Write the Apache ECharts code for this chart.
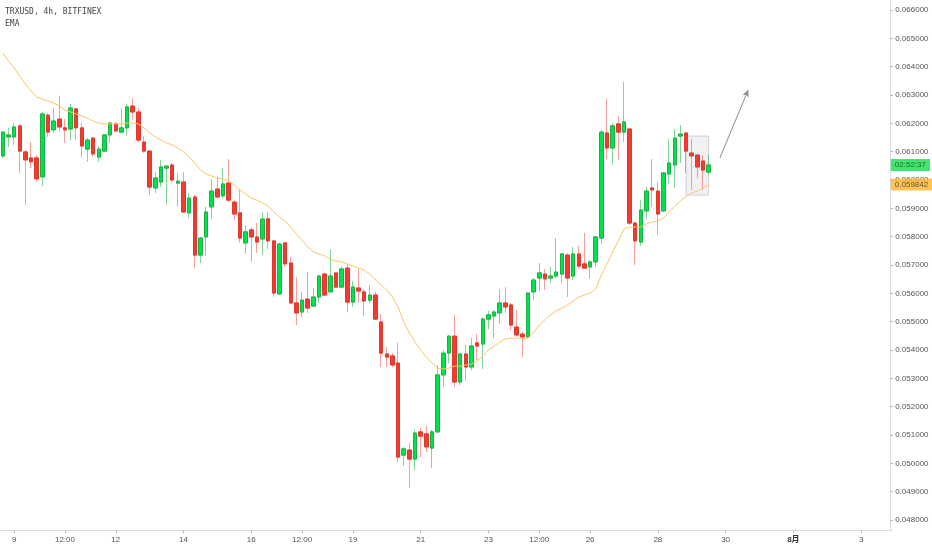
<!DOCTYPE html>
<html><head><meta charset="utf-8">
<script src="https://cdn.jsdelivr.net/npm/echarts@6/dist/echarts.min.js"></script>
<style>html,body{margin:0;padding:0;background:#fff}#c{width:932px;height:550px}</style>
</head><body><div id="c"></div>
<script>
// ---- data (4h bars, first bar = 8 Jul 16:00) ----
const opens = [0.06085,0.06152,0.06152,0.06191,0.06099,0.06078,0.06078,0.06011,0.06229,0.06177,0.06215,0.06184,0.06180,0.06251,0.06184,0.06109,0.06148,0.06081,0.06102,0.06159,0.06198,0.06169,0.06184,0.06261,0.06240,0.06134,0.06102,0.05972,0.05993,0.06042,0.06053,0.05989,0.05993,0.05884,0.05940,0.05735,0.05799,0.05905,0.05968,0.05944,0.05989,0.05922,0.05884,0.05778,0.05824,0.05799,0.05792,0.05863,0.05785,0.05598,0.05778,0.05707,0.05566,0.05534,0.05580,0.05555,0.05587,0.05668,0.05605,0.05672,0.05622,0.05689,0.05569,0.05619,0.05605,0.05576,0.05594,0.05499,0.05386,0.05379,0.05354,0.05029,0.05047,0.05015,0.05111,0.05104,0.05054,0.05111,0.05312,0.05389,0.05449,0.05287,0.05386,0.05340,0.05425,0.05421,0.05509,0.05520,0.05531,0.05566,0.05559,0.05481,0.05456,0.05446,0.05605,0.05654,0.05668,0.05654,0.05661,0.05668,0.05735,0.05661,0.05739,0.05704,0.05693,0.05711,0.05795,0.06166,0.06113,0.06198,0.06169,0.06180,0.05848,0.05781,0.05891,0.05972,0.05961,0.05891,0.06021,0.06053,0.06155,0.06166,0.06095,0.06088,0.06067,0.06028];
const closes = [0.06169,0.06159,0.06187,0.06102,0.06071,0.06064,0.06004,0.06233,0.06169,0.06208,0.06187,0.06177,0.06254,0.06184,0.06120,0.06141,0.06092,0.06109,0.06159,0.06201,0.06173,0.06184,0.06258,0.06240,0.06141,0.06102,0.05975,0.06007,0.06046,0.06049,0.06000,0.05996,0.05887,0.05936,0.05735,0.05795,0.05887,0.05961,0.05940,0.05986,0.05929,0.05880,0.05795,0.05817,0.05799,0.05781,0.05862,0.05785,0.05601,0.05774,0.05704,0.05566,0.05531,0.05576,0.05548,0.05587,0.05661,0.05594,0.05661,0.05622,0.05686,0.05569,0.05622,0.05608,0.05573,0.05594,0.05509,0.05389,0.05375,0.05347,0.05022,0.05051,0.05015,0.05107,0.05096,0.05058,0.05111,0.05312,0.05389,0.05449,0.05287,0.05386,0.05340,0.05414,0.05414,0.05509,0.05524,0.05534,0.05566,0.05552,0.05488,0.05453,0.05446,0.05601,0.05647,0.05672,0.05651,0.05661,0.05675,0.05739,0.05654,0.05739,0.05696,0.05689,0.05711,0.05799,0.06169,0.06113,0.06191,0.06169,0.06205,0.05848,0.05785,0.05894,0.05961,0.05965,0.05880,0.06025,0.06060,0.06148,0.06162,0.06102,0.06085,0.06046,0.06035,0.06053];
const lows = [0.06078,0.06117,0.06124,0.06025,0.05912,0.06042,0.05993,0.05979,0.06152,0.06166,0.06169,0.06131,0.06141,0.06141,0.06078,0.06064,0.06081,0.06064,0.06099,0.06131,0.06169,0.06166,0.06159,0.06212,0.06131,0.06095,0.05947,0.05954,0.05975,0.05912,0.05989,0.05908,0.05884,0.05866,0.05689,0.05707,0.05732,0.05863,0.05933,0.05936,0.05922,0.05859,0.05778,0.05739,0.05711,0.05742,0.05735,0.05756,0.05587,0.05594,0.05693,0.05562,0.05488,0.05516,0.05531,0.05552,0.05566,0.05591,0.05601,0.05619,0.05619,0.05534,0.05552,0.05566,0.05520,0.05566,0.05506,0.05340,0.05340,0.05340,0.05005,0.04991,0.04913,0.04976,0.05022,0.05040,0.04984,0.05107,0.05269,0.05354,0.05269,0.05276,0.05291,0.05329,0.05365,0.05333,0.05474,0.05442,0.05492,0.05531,0.05471,0.05446,0.05375,0.05442,0.05576,0.05608,0.05612,0.05636,0.05654,0.05636,0.05587,0.05647,0.05686,0.05686,0.05651,0.05693,0.05774,0.06074,0.06053,0.06071,0.06134,0.05841,0.05700,0.05767,0.05863,0.05905,0.05806,0.05887,0.05986,0.05972,0.06060,0.06025,0.05965,0.06007,0.05965,0.06018];
const highs = [0.06173,0.06184,0.06201,0.06198,0.06106,0.06134,0.06088,0.06240,0.06236,0.06254,0.06297,0.06215,0.06268,0.06254,0.06201,0.06148,0.06152,0.06120,0.06162,0.06205,0.06205,0.06254,0.06268,0.06289,0.06254,0.06155,0.06106,0.06028,0.06071,0.06053,0.06060,0.06025,0.06028,0.05954,0.05947,0.05799,0.05905,0.06004,0.06011,0.06042,0.06074,0.05929,0.05968,0.05841,0.05834,0.05848,0.05887,0.05887,0.05788,0.05778,0.05781,0.05728,0.05658,0.05605,0.05675,0.05619,0.05665,0.05672,0.05756,0.05675,0.05696,0.05704,0.05644,0.05686,0.05615,0.05629,0.05605,0.05527,0.05411,0.05389,0.05425,0.05058,0.05072,0.05118,0.05125,0.05132,0.05118,0.05347,0.05400,0.05453,0.05524,0.05389,0.05418,0.05442,0.05456,0.05516,0.05538,0.05541,0.05615,0.05622,0.05566,0.05541,0.05464,0.05605,0.05654,0.05707,0.05686,0.05693,0.05795,0.05742,0.05742,0.05764,0.05767,0.05813,0.05718,0.05802,0.06177,0.06286,0.06201,0.06226,0.06346,0.06184,0.05852,0.05929,0.05975,0.06074,0.05993,0.06028,0.06145,0.06180,0.06194,0.06169,0.06145,0.06092,0.06088,0.06088];
const ema = [0.06448,0.06420,0.06395,0.06367,0.06339,0.06314,0.06293,0.06286,0.06279,0.06272,0.06261,0.06247,0.06240,0.06233,0.06226,0.06219,0.06208,0.06201,0.06198,0.06198,0.06198,0.06198,0.06201,0.06201,0.06198,0.06184,0.06166,0.06152,0.06141,0.06131,0.06124,0.06113,0.06099,0.06081,0.06060,0.06035,0.06021,0.06014,0.06007,0.06004,0.05996,0.05982,0.05965,0.05951,0.05936,0.05929,0.05919,0.05908,0.05887,0.05869,0.05855,0.05834,0.05809,0.05788,0.05764,0.05746,0.05739,0.05732,0.05721,0.05714,0.05711,0.05704,0.05696,0.05689,0.05682,0.05668,0.05647,0.05629,0.05612,0.05587,0.05552,0.05499,0.05460,0.05428,0.05400,0.05375,0.05354,0.05336,0.05333,0.05336,0.05343,0.05343,0.05347,0.05350,0.05361,0.05379,0.05400,0.05414,0.05428,0.05439,0.05442,0.05442,0.05439,0.05442,0.05463,0.05488,0.05506,0.05524,0.05538,0.05548,0.05559,0.05573,0.05587,0.05594,0.05601,0.05615,0.05665,0.05704,0.05746,0.05785,0.05827,0.05834,0.05834,0.05834,0.05845,0.05852,0.05855,0.05866,0.05887,0.05908,0.05926,0.05943,0.05954,0.05961,0.05972,0.059842];

// x-axis tick labels (category index -> text)
const xTickIndex = [2, 11, 20, 32, 44, 53, 62, 74, 86, 95, 104, 116, 128, 140, 152];
const xTickText  = ['9','12:00','12','14','16','12:00','19','21','23','12:00','26','28','30','8月','3'];
// annotations
const arrowFrom = [127, 0.06078];
const arrowTo   = [132, 0.06318];
const boxFrom   = [121, 0.06155];
const boxTo     = [125, 0.05947];
const countdownText = '02:52:37';
const emaLastText = '0.059842';

// ---- build ----
const barCount = 158;
const barStart = Date.UTC(2020, 6, 8, 16);
const categories = [];
for (let k = 0; k < barCount; k++) {
  const d = new Date(barStart + k * 4 * 3600e3);
  categories.push((d.getUTCMonth()+1) + '/' + d.getUTCDate() + ' ' + String(d.getUTCHours()).padStart(2,'0') + ':00');
}
const tickMap = new Map(xTickIndex.map((j, k) => [j, xTickText[k]]));
const full = opens.map((o, k) => [o, closes[k], lows[k], highs[k]]);
const bodies = opens.map((o, k) => [o, closes[k], Math.min(o, closes[k]), Math.max(o, closes[k])]);

const bandW = 5.6667;
const gridLeft = 11 - 2.5 * bandW;
const gridW = barCount * bandW;
const pxPer = 510 / 0.018;
const yMin = 0.048 - 10 / pxPer;
const yMax = 0.066 + 10 / pxPer;
const font = 'Liberation Sans, Arial, Noto Sans CJK SC, sans-serif';
const tagLabel = (text, bg, fg) => ({show: true, position: 'right', distance: 1, formatter: () => text,
  backgroundColor: bg, color: fg, padding: [2, 4, 2, 4], fontSize: 8, fontFamily: font, align: 'left', verticalAlign: 'middle'});

const chart = echarts.init(document.getElementById('c'));
chart.setOption({
  animation: false,
  backgroundColor: '#ffffff',
  title: {
    text: 'TRXUSD, 4h, BITFINEX', subtext: 'EMA', left: 5, top: 8, itemGap: 4, padding: 0,
    textStyle: {fontFamily: 'DejaVu Sans Mono', fontSize: 8, fontWeight: 'normal', color: '#444'},
    subtextStyle: {fontFamily: 'DejaVu Sans Mono', fontSize: 8, color: '#444'}
  },
  grid: {left: gridLeft, top: 0, width: gridW, height: 530},
  xAxis: {
    type: 'category', data: categories, boundaryGap: true,
    axisLine: {lineStyle: {color: '#d9dbe5'}},
    axisTick: {show: true, alignWithLabel: true, length: 3, interval: (idx) => tickMap.has(idx), lineStyle: {color: '#b8bac4'}},
    axisLabel: {
      interval: (idx) => tickMap.has(idx),
      formatter: (v, idx) => { const t = tickMap.get(idx) || ''; return t.indexOf('月') >= 0 ? '{m|' + t + '}' : t; },
      fontSize: 8, color: '#555', margin: 6, fontFamily: font,
      rich: {m: {fontWeight: 'bold', fontSize: 8, color: '#333', fontFamily: font}}
    },
    splitLine: {show: false}
  },
  yAxis: {
    type: 'value', position: 'right', offset: -2, min: yMin, max: yMax, scale: true,
    splitNumber: 18, minInterval: 0.001, maxInterval: 0.001,
    axisLine: {show: true, lineStyle: {color: '#d9dbe5'}},
    axisTick: {show: true, length: 3, lineStyle: {color: '#b8bac4'}},
    axisLabel: {fontSize: 8, color: '#555', margin: 5, fontFamily: font, showMinLabel: false, showMaxLabel: false,
      formatter: (v) => v.toFixed(6)},
    splitLine: {show: false}
  },
  series: [
    {
      type: 'candlestick', name: 'wick', data: full, barWidth: 4, clip: false, silent: true,
      itemStyle: {color: 'rgba(0,0,0,0)', color0: 'rgba(0,0,0,0)', borderColor: 'rgba(40,190,80,0.6)', borderColor0: 'rgba(240,80,70,0.55)', borderWidth: 1},
      markArea: {silent: true, itemStyle: {color: 'rgba(150,150,160,0.13)', borderColor: '#d0d0d6', borderWidth: 1},
        data: [[{coord: boxFrom}, {coord: boxTo}]]},
      markLine: {silent: true, symbol: ['none', 'arrow'], symbolSize: [5, 7], label: {show: false},
        lineStyle: {color: '#8c8c8c', width: 1, type: 'solid'},
        data: [[{coord: arrowFrom}, {coord: arrowTo}]]}
    },
    {
      type: 'candlestick', name: 'TRXUSD', data: bodies, barWidth: 4, clip: false, silent: true,
      itemStyle: {color: '#00e34d', color0: '#f5392c', borderColor: '#1fae46', borderColor0: '#dc3a2e', borderWidth: 1}
    },
    {
      type: 'line', name: 'EMA', data: ema, showSymbol: false, clip: false, silent: true,
      lineStyle: {color: '#fbc766', width: 1}, z: 3
    },
    {
      type: 'scatter', name: 'tags', clip: false, silent: true, z: 10,
      symbolSize: 1, itemStyle: {color: 'rgba(0,0,0,0)'},
      data: [
        {value: [barCount - 1, closes[closes.length - 1]], label: tagLabel(countdownText, '#12e04c', '#1d4a1d')},
        {value: [barCount - 1, ema[ema.length - 1]], label: tagLabel(emaLastText, '#ffb52b', '#333')}
      ]
    }
  ]
});
</script></body></html>
